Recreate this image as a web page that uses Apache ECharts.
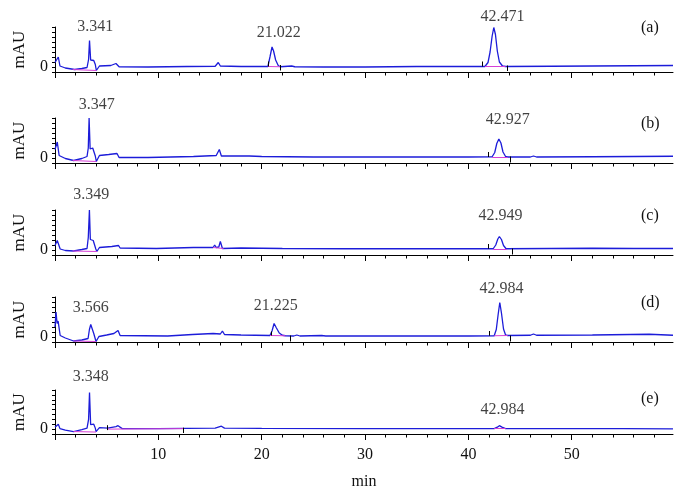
<!DOCTYPE html>
<html>
<head>
<meta charset="utf-8">
<script src="https://cdn.jsdelivr.net/npm/echarts@6/dist/echarts.min.js"></script>
<style>
  html, body { margin: 0; padding: 0; background: #fff; }
  #echart { width: 684px; height: 491px; }
</style>
</head>
<body>
<div id="echart"></div>
<script>
// panel names
var panelNames = ['(a)', '(b)', '(c)', '(d)', '(e)'];

// chromatogram traces, [min, mAU]
var traceA = [[0,0.9],[0.32,2.0],[0.48,0.2],[1.0,-0.2],[1.9,-0.5],[2.6,-0.3],[3.1,-0.1],[3.25,1.5],[3.34,5.3],[3.45,1.4],[3.6,1.2],[3.75,1.3],[3.9,0.5],[4.0,-0.7],[4.3,0.2],[5.4,0.3],[5.9,0.7],[6.2,0.05],[9,0.0],[12.8,0.1],[15.5,0.15],[15.8,0.9],[16.0,0.2],[18,0.1],[20.6,0.1],[20.8,2.0],[21.0,4.0],[21.15,3.2],[21.35,1.4],[21.6,0.3],[21.8,0.05],[22.9,0.2],[23.2,0.05],[26,0.0],[30,0.0],[35,0.1],[40,0.1],[41.6,0.1],[41.9,0.9],[42.1,3.0],[42.3,6.2],[42.46,7.9],[42.62,6.5],[42.8,3.2],[43.0,1.0],[43.3,0.2],[43.6,0.1],[48,0.15],[52,0.2],[56,0.25],[59.8,0.3]];
var traceB = [[0,1.7],[0.22,3.2],[0.4,0.5],[1.0,-0.1],[1.8,-0.5],[2.6,-0.1],[3.1,0.3],[3.22,2.0],[3.3,8.0],[3.4,1.8],[3.5,1.9],[3.65,2.0],[3.8,1.8],[3.9,0.4],[4.0,-0.7],[4.3,0.5],[5.2,0.7],[6.0,0.9],[6.2,0.1],[9,0.1],[13.4,0.3],[15.6,0.5],[15.9,1.7],[16.1,0.4],[18.8,0.4],[20,0.3],[25,0.2],[30,0.2],[35,0.2],[40,0.2],[42.3,0.25],[42.55,1.1],[42.75,2.9],[42.95,3.8],[43.15,3.0],[43.35,1.2],[43.6,0.3],[43.8,0.2],[46.0,0.2],[46.3,0.4],[46.6,0.2],[52,0.25],[56,0.3],[59.8,0.35]];
var traceC = [[0,0.9],[0.22,1.9],[0.5,0.2],[1.0,-0.1],[1.8,-0.2],[2.6,0.1],[3.1,0.3],[3.22,2.5],[3.33,8.0],[3.42,2.1],[3.55,2.0],[3.7,1.9],[3.85,1.6],[3.95,0.2],[4.05,-0.3],[4.3,0.5],[5.5,0.7],[6.15,0.9],[6.3,0.4],[9.8,0.3],[13.4,0.5],[15.3,0.5],[15.45,1.0],[15.6,0.5],[15.85,0.6],[16.0,1.7],[16.2,0.3],[18,0.4],[22,0.3],[28,0.25],[35,0.25],[40,0.25],[42.4,0.25],[42.65,1.0],[42.85,2.2],[43.0,2.7],[43.2,2.1],[43.4,0.9],[43.65,0.25],[48,0.3],[52,0.35],[56,0.3],[59.8,0.3]];
var traceD = [[0,2.0],[0.1,5.0],[0.2,2.7],[0.3,3.2],[0.5,0.3],[1.0,-0.2],[1.8,-0.8],[2.6,-0.6],[3.2,-0.3],[3.33,1.5],[3.46,2.5],[3.6,2.3],[3.75,0.7],[3.97,-0.9],[4.25,0.1],[5.0,0.4],[5.7,0.7],[6.1,1.3],[6.3,0.3],[10.9,0.2],[13.3,0.5],[15.3,0.7],[16.0,0.6],[16.2,1.2],[16.4,0.5],[18,0.4],[20.8,0.3],[21.0,1.2],[21.2,2.7],[21.4,1.9],[21.7,0.8],[22.0,0.35],[22.3,0.25],[23.1,0.2],[23.4,0.4],[23.7,0.2],[25.8,0.3],[26.2,0.2],[30,0.2],[35,0.2],[40,0.2],[42.5,0.25],[42.7,1.5],[42.88,4.5],[43.04,6.9],[43.2,4.8],[43.4,1.6],[43.6,0.4],[43.8,0.3],[46.0,0.35],[46.3,0.6],[46.6,0.35],[52,0.4],[57.5,0.55],[59.8,0.35]];
var traceE = [[0,0.4],[0.32,1.0],[0.48,0.1],[1.0,-0.2],[1.8,-0.5],[2.6,-0.1],[3.1,0.2],[3.25,2.0],[3.34,7.5],[3.45,0.9],[3.6,0.9],[3.75,1.0],[3.9,0.2],[3.97,-0.5],[4.3,0.3],[5.1,0.2],[5.9,0.5],[6.1,0.7],[6.5,0.1],[10,0.1],[15.5,0.2],[16.1,0.6],[16.4,0.2],[20,0.15],[30,0.1],[40,0.1],[42.5,0.1],[42.8,0.4],[43.0,0.7],[43.25,0.4],[43.6,0.1],[50,0.1],[55,0.1],[59.8,0.05]];

// integration baselines [t1, v1, t2, v2]
var baseA = [[1.7,-0.5,4.0,-0.7],[20.6,0.1,21.8,0.05],[41.6,0.1,43.6,0.1]];
var baseB = [[1.7,-0.5,4.0,-0.7],[42.3,0.25,43.8,0.2]];
var baseC = [[1.7,-0.2,4.05,-0.3],[15.3,0.5,16.3,0.3],[42.4,0.25,43.7,0.25]];
var baseD = [[1.8,-0.8,3.97,-0.9],[20.8,0.3,22.3,0.25],[42.5,0.25,43.8,0.3]];
var baseE = [[1.8,-0.5,3.97,-0.6],[5.1,0.0,12.4,0.1],[42.5,0.1,43.6,0.1]];

// peak start / end markers [t, vFrom, vTo]
var markA = [[20.6,0.1,1.1],[21.8,0.4,-0.7],[41.3,0.1,1.1],[43.8,0.3,-0.8]];
var markB = [[41.9,0.2,1.2],[44.1,0.3,-0.9]];
var markC = [[41.9,0.25,1.2],[44.2,0.3,-0.9]];
var markD = [[20.9,0.3,1.1],[22.8,0.3,-0.9],[42.0,0.25,1.2],[44.1,0.3,-0.9]];
var markE = [[5.1,-0.2,0.8],[12.4,0.3,-0.8]];

// retention time labels [t, v, text]
var peaksA = [[3.9,8.1,'3.341'],[21.65,6.9,'21.022'],[43.3,10.1,'42.471']];
var peaksB = [[4.05,10.7,'3.347'],[43.8,7.7,'42.927']];
var peaksC = [[3.5,11.0,'3.349'],[43.1,6.9,'42.949']];
var peaksD = [[3.47,5.9,'3.566'],[21.36,6.2,'21.225'],[43.2,9.7,'42.984']];
var peaksE = [[3.47,10.6,'3.348'],[43.3,4.0,'42.984']];

var xTicks = [0, 10, 20, 30, 40, 50];

var traces = [traceA, traceB, traceC, traceD, traceE];
var bases = [baseA, baseB, baseC, baseD, baseE];
var marks = [markA, markB, markC, markD, markE];
var peaks = [peaksA, peaksB, peaksC, peaksD, peaksE];
var gridBottoms = [72, 163, 255, 342, 435];
var letterY = [30, 126, 218, 305, 401];

var font = 'Liberation Serif';
var ink = '#111';
var myChart = echarts.init(document.getElementById('echart'));

var grid = [], xAxis = [], yAxis = [], series = [], graphic = [];
for (var i = 0; i < 5; i++) {
    var last = i == 4;
    grid.push({left: 55, right: 11, top: gridBottoms[i] - 45, height: 45});
    xAxis.push({
        type: 'value', gridIndex: i, min: 0, max: 59.8, interval: 10,
        name: last ? 'min' : '', nameLocation: 'middle', nameGap: 40,
        nameTextStyle: {fontFamily: font, fontSize: 16, color: ink},
        axisLine: {show: true, onZero: false, lineStyle: {color: '#000', width: 1}},
        axisTick: {show: true, length: 6, customValues: xTicks, lineStyle: {color: '#000'}},
        minorTick: {show: true, splitNumber: 5, length: 3.5, lineStyle: {color: '#000'}},
        splitLine: {show: false},
        axisLabel: {
            show: last, margin: 13, fontFamily: font, fontSize: 16, color: ink,
            formatter: function (v) { return (v > 0 && v < 59) ? String(v) : ''; }
        }
    });
    yAxis.push({
        type: 'value', gridIndex: i, min: -1, max: 8, interval: 1,
        name: 'mAU', nameLocation: 'middle', nameRotate: 90, nameGap: 27,
        nameTextStyle: {fontFamily: font, fontSize: 17, color: ink},
        axisLine: {show: true, lineStyle: {color: '#000', width: 1}},
        axisTick: {show: true, length: 3, lineStyle: {color: '#000'}},
        splitLine: {show: false},
        axisLabel: {
            margin: 7, fontFamily: font, fontSize: 16, color: ink,
            formatter: function (v) { return v === 0 ? '0' : ''; }
        }
    });

    // baselines (magenta), drawn under the trace
    var baseLines = [];
    for (var b = 0; b < bases[i].length; b++) {
        var s = bases[i][b];
        baseLines.push([{coord: [s[0], s[1]]}, {coord: [s[2], s[3]]}]);
    }
    var markLines = [];
    for (var m = 0; m < marks[i].length; m++) {
        var k = marks[i][m];
        markLines.push([{coord: [k[0], k[1]]}, {coord: [k[0], k[2]]}]);
    }
    var labelData = [];
    for (var p = 0; p < peaks[i].length; p++) {
        labelData.push({value: [peaks[i][p][0], peaks[i][p][1]], name: peaks[i][p][2]});
    }

    series.push({
        type: 'scatter', xAxisIndex: i, yAxisIndex: i, z: 1, clip: false,
        symbolSize: 1, itemStyle: {color: 'rgba(0,0,0,0)'},
        data: labelData, silent: true,
        label: {
            show: true, position: 'inside', formatter: '{b}',
            fontFamily: font, fontSize: 16, color: ink
        },
        markLine: {
            silent: true, symbol: ['none', 'none'], animation: false,
            label: {show: false},
            lineStyle: {color: '#d640d6', width: 1, type: 'solid'},
            data: baseLines
        }
    });
    series.push({
        type: 'line', xAxisIndex: i, yAxisIndex: i, z: 3,
        data: traces[i], showSymbol: false, silent: true,
        lineStyle: {color: '#1c1cd9', width: 1.3},
        markLine: {
            silent: true, symbol: ['none', 'none'], animation: false,
            label: {show: false},
            lineStyle: {color: '#000', width: 1, type: 'solid'},
            data: markLines
        }
    });

    graphic.push({
        type: 'text', left: 641, top: letterY[i] - 10,
        style: {text: panelNames[i], fontFamily: font, fontSize: 16, fill: ink}
    });
}

myChart.setOption({
    animation: false,
    backgroundColor: '#fff',
    grid: grid,
    xAxis: xAxis,
    yAxis: yAxis,
    series: series,
    graphic: graphic
});
</script>
</body>
</html>
